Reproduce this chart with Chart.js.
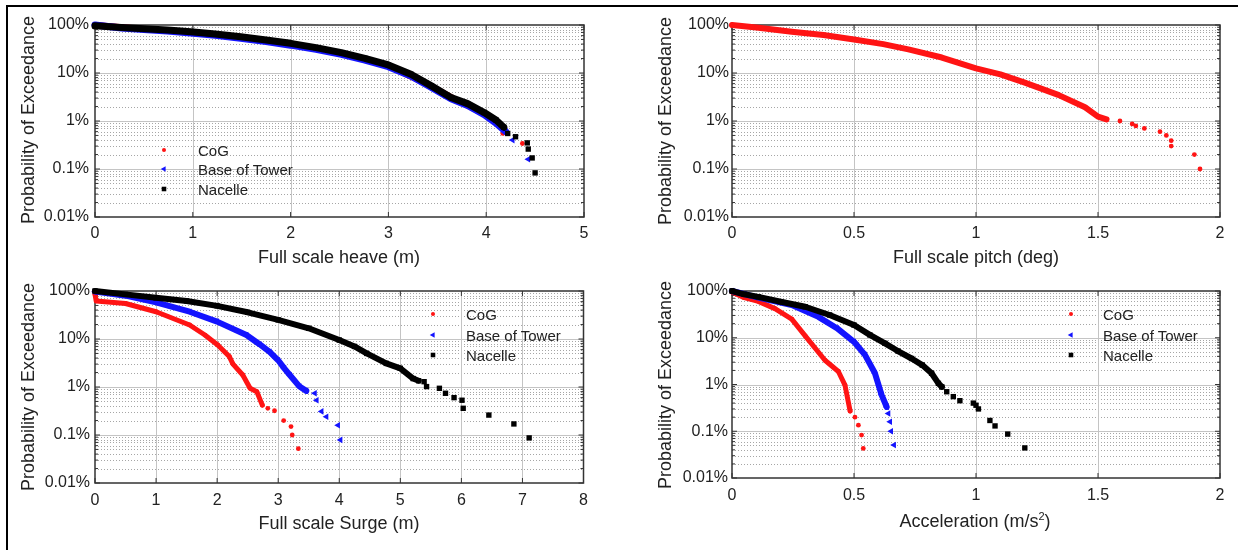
<!DOCTYPE html>
<html>
<head>
<meta charset="utf-8">
<script src="https://cdn.jsdelivr.net/npm/chart.js@4.4.1/dist/chart.umd.min.js"></script>
<style>
  body { margin: 0; width: 1238px; height: 550px; position: relative; overflow: hidden; background: #fff;
         font-family: "Liberation Sans", Arial, sans-serif; color: #222; }
  .frame { position: absolute; left: 6px; top: 5px; right: -4px; bottom: -4px; border-top: 2px solid #000; border-left: 2px solid #000; }
  canvas { position: absolute; }
  .t { position: absolute; white-space: nowrap; font-size: 18px; transform: translate(-50%, -50%); }
  .ty { transform: translate(-50%, -50%) rotate(-90deg); }
  .lg { position: absolute; white-space: nowrap; font-size: 15px; transform: translateY(-50%); }
  sup { font-size: 11px; }
</style>
</head>
<body>
<div class="frame"></div>

<canvas id="heave" width="600" height="262" style="left:10px;top:8px"></canvas>
<canvas id="pitch" width="598" height="262" style="left:640px;top:8px"></canvas>
<canvas id="surge" width="600" height="250" style="left:10px;top:275px"></canvas>
<canvas id="accel" width="598" height="250" style="left:640px;top:275px"></canvas>

<div class="t ty" style="left:28px;top:120px">Probability of Exceedance</div>
<div class="t ty" style="left:665px;top:121px">Probability of Exceedance</div>
<div class="t ty" style="left:28px;top:387px">Probability of Exceedance</div>
<div class="t ty" style="left:665px;top:385px">Probability of Exceedance</div>

<div class="t" style="left:339px;top:257px">Full scale heave (m)</div>
<div class="t" style="left:976px;top:257px">Full scale pitch (deg)</div>
<div class="t" style="left:339px;top:523px">Full scale Surge (m)</div>
<div class="t" style="left:975px;top:521px">Acceleration (m/s<sup>2</sup>)</div>

<div id="legends"></div>

<script>
// probability axis (percent)
const yTickValues = [0.01, 0.1, 1, 10, 100];
const yTickLabels = ['0.01%', '0.1%', '1%', '10%', '100%'];
const seriesNames = ['CoG', 'Base of Tower', 'Nacelle'];

// heave (top left)
const heaveTicks = [0, 1, 2, 3, 4, 5];
const heaveCogX = [0, 0.5, 1.0, 1.5, 2.0, 2.5, 3.0, 3.44, 3.73, 3.98, 4.1, 4.17, 4.37];
const heaveCogP = [100, 83, 71, 56, 40, 26, 14, 5.3, 2.5, 1.4, 0.95, 0.55, 0.34];
const heaveCogGap = 11;
const heaveBaseX = [0, 0.27, 0.5, 0.74, 0.98, 1.23, 1.49, 1.75, 2.0, 2.26, 2.52, 2.76, 3.0, 3.23, 3.44, 3.64, 3.81, 3.98, 4.1, 4.2, 4.27, 4.43];
const heaveBaseP = [100, 87, 81, 75, 68, 61, 53, 45, 38, 31, 24.5, 18.5, 13.5, 8.7, 5.0, 2.9, 2.1, 1.35, 0.9, 0.6, 0.40, 0.16];
const heaveBaseGap = 20;
const heaveNacX = [0, 0.27, 0.5, 0.74, 0.98, 1.23, 1.49, 1.75, 2.0, 2.26, 2.52, 2.76, 3.0, 3.23, 3.44, 3.64, 3.81, 3.98, 4.1, 4.18, 4.22, 4.3, 4.42, 4.43, 4.47, 4.5];
const heaveNacP = [96, 89, 84, 79, 72.6, 65, 57, 48.7, 41.5, 33.7, 26.5, 20.2, 14.7, 9.4, 5.4, 3.1, 2.3, 1.5, 1.05, 0.74, 0.55, 0.47, 0.35, 0.26, 0.17, 0.083];
const heaveNacGap = 20;

// pitch (top right)
const pitchTicks = [0, 0.5, 1, 1.5, 2];
const pitchCogX = [0, 0.1, 0.245, 0.375, 0.5, 0.62, 0.723, 0.86, 1.0, 1.1, 1.2, 1.337, 1.447, 1.5, 1.535, 1.59, 1.64, 1.655, 1.69, 1.754, 1.78, 1.8, 1.8, 1.895, 1.918];
const pitchCogP = [100, 89, 72.6, 62, 50, 40, 31, 21, 12.5, 9.4, 6.3, 3.5, 1.93, 1.23, 1.08, 1.0, 0.87, 0.79, 0.70, 0.6, 0.5, 0.39, 0.30, 0.20, 0.10];
const pitchCogGap = 15;

// surge (bottom left)
const surgeTicks = [0, 1, 2, 3, 4, 5, 6, 7, 8];
const surgeCogX = [0, 0.02, 0.5, 1.0, 1.55, 1.8, 2.01, 2.2, 2.26, 2.42, 2.54, 2.65, 2.74, 2.83, 2.94, 3.09, 3.21, 3.23, 3.33];
const surgeCogP = [85, 62, 55, 37, 19.6, 12.1, 7.5, 4.3, 3.0, 1.78, 0.94, 0.8, 0.42, 0.36, 0.32, 0.2, 0.15, 0.10, 0.052];
const surgeCogGap = 13;
const surgeBaseX = [0, 0.5, 1.0, 1.55, 2.0, 2.48, 2.7, 2.86, 3.0, 3.1, 3.19, 3.35, 3.46, 3.6, 3.63, 3.71, 3.79, 3.98, 4.02];
const surgeBaseP = [97, 80, 58, 37, 23, 12.1, 7.7, 5.4, 3.6, 2.45, 1.78, 1.02, 0.83, 0.74, 0.53, 0.31, 0.24, 0.16, 0.079];
const surgeBaseGap = 13;
const surgeNacX = [0, 0.5, 1.0, 1.5, 2.0, 2.5, 3.0, 3.5, 4.0, 4.25, 4.45, 4.77, 5.0, 5.21, 5.3, 5.39, 5.43, 5.64, 5.74, 5.88, 6.01, 6.03, 6.45, 6.86, 7.11];
const surgeNacP = [100, 85, 72, 62, 49, 36, 25, 16.7, 9.5, 7, 5, 3.1, 2.45, 1.5, 1.35, 1.29, 1.02, 0.94, 0.74, 0.6, 0.53, 0.36, 0.26, 0.17, 0.087];
const surgeNacGap = 15;

// acceleration (bottom right)
const accelTicks = [0, 0.5, 1, 1.5, 2];
const accelCogX = [0, 0.05, 0.108, 0.176, 0.245, 0.30, 0.381, 0.436, 0.463, 0.484, 0.504, 0.518, 0.531, 0.538];
const accelCogP = [95, 72, 60, 42, 25, 11, 3.3, 1.9, 0.97, 0.27, 0.2, 0.135, 0.083, 0.043];
const accelCogGap = 10;
const accelBaseX = [0, 0.108, 0.245, 0.354, 0.43, 0.5, 0.545, 0.586, 0.613, 0.634, 0.641, 0.648, 0.652, 0.664];
const accelBaseP = [100, 72, 50, 28, 16, 8.2, 4.3, 1.74, 0.6, 0.33, 0.24, 0.16, 0.10, 0.051];
const accelBaseGap = 10;
const accelNacX = [0, 0.05, 0.108, 0.2, 0.3, 0.4, 0.5, 0.565, 0.627, 0.68, 0.736, 0.78, 0.818, 0.846, 0.86, 0.88, 0.907, 0.934, 0.989, 1.0, 1.01, 1.057, 1.078, 1.13, 1.2];
const accelNacP = [100, 85, 75, 59, 46, 30.7, 18.7, 11.5, 7.6, 5.2, 3.6, 2.6, 1.74, 1.06, 0.89, 0.70, 0.55, 0.45, 0.40, 0.36, 0.30, 0.17, 0.13, 0.087, 0.044];
const accelNacGap = 15;

Chart.defaults.font.family = '"Liberation Sans", Arial, sans-serif';
Chart.defaults.font.size = 16;
Chart.defaults.color = '#222';

const styles = {
  cog:  { color: '#ff1414', shape: 'circle',   size: 2.4, rot: 0,   band: 5, order: 3 },
  base: { color: '#1414ff', shape: 'triangle', size: 3.8, rot: -90, band: 6, order: 2 },
  nac:  { color: '#000000', shape: 'rect',     size: 3.8, rot: 0,   band: 6, order: 1 }
};

// minor grid values of the log axis
const yMinor = [];
for (let k = -2; k < 2; k++) {
  for (let m = 2; m <= 9; m++) yMinor.push(m * Math.pow(10, k));
}

function series(name, xs, ps, gap, st, band) {
  return {
    label: name,
    data: xs.map((x, i) => ({ x: x, y: ps[i] })),
    showLine: true,
    borderColor: st.color,
    backgroundColor: st.color,
    borderWidth: band || st.band,
    borderJoinStyle: 'round',
    borderCapStyle: 'round',
    pointStyle: st.shape,
    pointRadius: st.size,
    pointRotation: st.rot,
    pointBorderWidth: 0,
    pointHoverRadius: st.size,
    tension: 0,
    order: st.order,
    clip: false,
    segment: { borderColor: c => c.p1DataIndex >= gap ? 'rgba(0,0,0,0)' : st.color }
  };
}

const boxPlugin = {
  id: 'box',
  beforeDatasetsDraw(chart) {
    const { ctx, chartArea: a, scales: { x, y } } = chart;
    const line = (x0, y0, x1, y1) => { ctx.beginPath(); ctx.moveTo(x0, y0); ctx.lineTo(x1, y1); ctx.stroke(); };
    ctx.save();
    ctx.lineWidth = 1;
    ctx.strokeStyle = '#a6a6a6';
    ctx.setLineDash([1, 2]);
    yMinor.forEach(v => {
      const py = Math.round(y.getPixelForValue(v)) + 0.5;
      line(a.left, py, a.right, py);
    });
    ctx.setLineDash([]);
    ctx.strokeStyle = '#c4c4c4';
    yTickValues.slice(1, -1).forEach(v => {
      const py = Math.round(y.getPixelForValue(v)) + 0.5;
      line(a.left, py, a.right, py);
    });
    x.ticks.slice(1, -1).forEach(t => {
      const px = Math.round(x.getPixelForValue(t.value)) + 0.5;
      line(px, a.top, px, a.bottom);
    });
    // axes box and inward ticks
    ctx.strokeStyle = '#333';
    ctx.lineWidth = 1.5;
    ctx.strokeRect(a.left, a.top, a.right - a.left, a.bottom - a.top);
    ctx.lineWidth = 1;
    x.ticks.forEach(t => {
      const px = x.getPixelForValue(t.value);
      line(px, a.bottom, px, a.bottom - 5);
      line(px, a.top, px, a.top + 5);
    });
    yTickValues.forEach(v => {
      const py = y.getPixelForValue(v);
      line(a.left, py, a.left + 5, py);
      line(a.right, py, a.right - 5, py);
    });
    yMinor.forEach(v => {
      const py = y.getPixelForValue(v);
      line(a.left, py, a.left + 3, py);
      line(a.right, py, a.right - 3, py);
    });
    ctx.restore();
  }
};

const markPlugin = {
  id: 'marks',
  afterDatasetsDraw(chart, args, opts) {
    if (!opts.rows) return;
    const ctx = chart.ctx;
    chart.data.datasets.forEach((ds, i) => {
      ctx.save();
      ctx.fillStyle = ds.backgroundColor;
      Chart.helpers.drawPoint(ctx, { pointStyle: ds.pointStyle, radius: ds.pointRadius * 0.85, rotation: ds.pointRotation, borderWidth: 0 }, opts.x, opts.rows[i]);
      ctx.restore();
    });
  }
};

function makeChart(id, box, xTicks, datasets, legend) {
  const el = document.getElementById(id);
  const cx = parseFloat(el.style.left), cy = parseFloat(el.style.top);
  const marks = legend ? { x: legend.mx - cx, rows: legend.rows.map(r => r - cy) } : {};
  new Chart(el, {
    type: 'scatter',
    data: { datasets: datasets },
    options: {
      responsive: false,
      animation: false,
      devicePixelRatio: 1,
      layout: { padding: { left: 0, top: box.top - cy, right: cx + el.width - box.right, bottom: 0 } },
      plugins: { legend: { display: false }, tooltip: { enabled: false }, marks: marks },
      events: [],
      scales: {
        x: {
          type: 'linear',
          min: xTicks[0],
          max: xTicks[xTicks.length - 1],
          grid: { display: false, drawTicks: false },
          border: { display: false },
          afterBuildTicks: s => { s.ticks = xTicks.map(v => ({ value: v })); },
          afterFit: s => { s.height = cy + el.height - box.bottom; },
          ticks: { padding: box.xPad, autoSkip: false, maxRotation: 0, callback: v => String(v) }
        },
        y: {
          type: 'logarithmic',
          min: yTickValues[0],
          max: yTickValues[yTickValues.length - 1],
          grid: { display: false, drawTicks: false },
          border: { display: false },
          afterBuildTicks: s => { s.ticks = yTickValues.map(v => ({ value: v })); },
          afterFit: s => { s.width = box.left - cx; },
          ticks: {
            padding: box.yPad, autoSkip: false,
            callback: v => { const i = yTickValues.indexOf(v); return i >= 0 ? yTickLabels[i] : ''; }
          }
        }
      }
    },
    plugins: [boxPlugin, markPlugin]
  });
  if (legend) {
    const holder = document.getElementById('legends');
    legend.rows.forEach((r, i) => {
      const d = document.createElement('div');
      d.className = 'lg';
      d.style.left = legend.tx + 'px';
      d.style.top = r + 'px';
      d.textContent = seriesNames[i];
      holder.appendChild(d);
    });
  }
}

makeChart('heave', { left: 95, top: 25, right: 584, bottom: 217, xPad: 7, yPad: 6 }, heaveTicks, [
  series(seriesNames[0], heaveCogX, heaveCogP, heaveCogGap, styles.cog, 6),
  series(seriesNames[1], heaveBaseX, heaveBaseP, heaveBaseGap, styles.base, 7),
  series(seriesNames[2], heaveNacX, heaveNacP, heaveNacGap, styles.nac, 7)
], { mx: 164, tx: 198, rows: [150, 169, 189] });

makeChart('pitch', { left: 732, top: 25, right: 1220, bottom: 217, xPad: 7, yPad: 3 }, pitchTicks, [
  series(seriesNames[0], pitchCogX, pitchCogP, pitchCogGap, styles.cog, 6)
], null);

makeChart('surge', { left: 95, top: 291, right: 583.5, bottom: 483, xPad: 8, yPad: 5 }, surgeTicks, [
  series(seriesNames[0], surgeCogX, surgeCogP, surgeCogGap, styles.cog),
  series(seriesNames[1], surgeBaseX, surgeBaseP, surgeBaseGap, styles.base),
  series(seriesNames[2], surgeNacX, surgeNacP, surgeNacGap, styles.nac)
], { mx: 433, tx: 466, rows: [314, 335, 355] });

makeChart('accel', { left: 732, top: 291, right: 1220, bottom: 478, xPad: 8, yPad: 4 }, accelTicks, [
  series(seriesNames[0], accelCogX, accelCogP, accelCogGap, styles.cog),
  series(seriesNames[1], accelBaseX, accelBaseP, accelBaseGap, styles.base),
  series(seriesNames[2], accelNacX, accelNacP, accelNacGap, styles.nac)
], { mx: 1071, tx: 1103, rows: [314, 335, 355] });
</script>
</body>
</html>
